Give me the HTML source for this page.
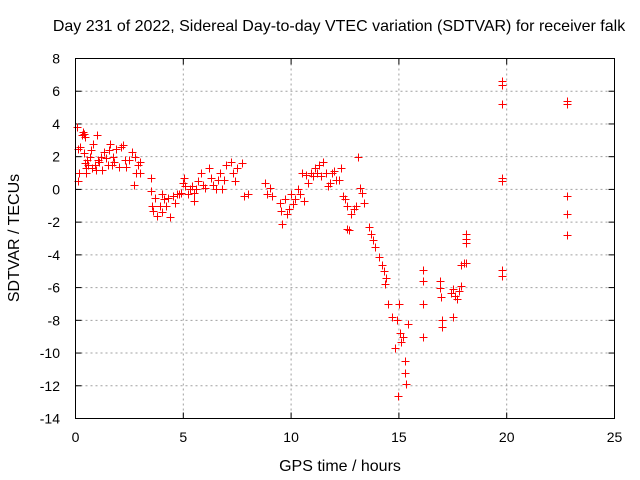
<!DOCTYPE html>
<html><head><meta charset="utf-8"><style>
body{margin:0;background:#fff}
svg{display:block;font-family:"Liberation Sans",sans-serif}
</style></head><body>
<svg id="chart" width="640" height="480" xmlns="http://www.w3.org/2000/svg">
<text x="339" y="31" font-size="16" text-anchor="middle">Day 231 of 2022, Sidereal Day-to-day VTEC variation (SDTVAR) for receiver falk</text>
<text x="340" y="471" font-size="16" text-anchor="middle">GPS time / hours</text>
<text transform="translate(19,238) rotate(-90)" font-size="16" text-anchor="middle">SDTVAR / TECUs</text>
<g id="grid"></g>
<g id="ticks"></g>
<g id="points"></g>
<rect x="75.5" y="58.5" width="539" height="360" fill="none" stroke="#000" stroke-width="1"/>
</svg>
<script>
const xTicks=[0,5,10,15,20,25];
const yTicks=[8,6,4,2,0,-2,-4,-6,-8,-10,-12,-14];
const hours=[0.05,0.1,0.1,0.15,0.2,0.3,0.35,0.4,0.45,0.4,0.45,0.5,0.5,0.55,0.6,0.65,0.7,0.75,0.8,0.9,0.95,1.0,1.05,1.1,1.2,1.25,1.3,1.4,1.5,1.55,1.6,1.7,1.75,1.8,1.9,2.0,2.1,2.2,2.3,2.35,2.5,2.6,2.7,2.75,2.8,2.9,3.0,3.0,
3.5,3.5,3.55,3.6,3.7,3.8,3.9,4.0,4.0,4.1,4.2,4.3,4.4,4.5,4.6,4.7,4.8,4.9,5.0,5.05,5.1,5.2,5.3,5.4,5.5,5.5,5.6,5.7,5.8,5.9,6.0,6.2,6.3,6.4,6.5,6.6,6.7,6.8,6.9,7.0,7.2,7.3,7.4,7.5,7.7,7.8,8.0,8.8,8.9,9.0,9.1,9.5,9.55,9.6,9.7,9.8,9.9,10.0,10.1,10.2,10.3,10.4,10.5,10.6,10.7,10.8,10.9,11.0,11.1,11.2,11.3,11.4,11.5,11.6,11.7,11.8,11.9,12.0,12.1,12.2,12.3,12.4,12.5,12.6,12.6,12.7,12.8,12.9,13.0,13.1,13.2,13.3,13.4,13.6,13.7,13.8,13.9,14.1,14.2,14.3,14.35,14.4,14.5,14.7,14.8,14.9,15.0,15.05,15.1,14.95,15.2,15.3,15.3,15.35,15.4,16.1,16.1,16.1,16.1,16.9,16.9,16.95,17.0,17.0,17.4,17.5,17.5,17.6,17.7,17.8,17.9,17.9,18.0,18.1,18.1,18.1,18.1,19.8,19.8,19.8,19.8,19.8,19.8,19.8,22.8,22.8,22.8,22.8,22.8];
const sdtvar=[3.8,2.5,0.5,1.0,2.6,3.3,3.5,3.4,3.2,2.2,1.6,1.3,1.0,1.8,1.5,2.0,2.4,1.3,2.8,1.5,1.2,3.3,1.8,1.7,2.0,1.2,2.3,1.9,1.5,2.4,2.8,1.5,2.0,1.7,2.5,1.4,2.6,2.7,1.8,1.4,1.8,2.3,0.3,2.0,1.0,1.5,1.0,1.7,
0.7,-0.1,-1.0,-1.3,-0.5,-1.6,-1.0,-0.3,-1.4,-0.6,-1.0,-0.5,-1.7,-0.4,-0.8,-0.3,-0.3,-0.2,0.4,0.7,0.2,-0.3,0.0,0.2,-0.7,-0.2,0.0,0.5,1.0,0.3,0.1,1.3,0.7,0.3,0.0,0.6,1.0,0.0,0.6,1.5,1.7,1.0,0.5,1.3,1.6,-0.4,-0.3,0.4,-0.3,0.1,-0.4,-0.8,-1.3,-2.1,-0.6,-1.5,-1.2,-0.3,-0.9,-0.6,0.0,-0.3,1.0,-0.7,0.9,0.4,1.0,0.8,1.3,1.0,1.5,0.8,1.7,1.0,0.2,0.4,1.0,1.1,0.6,0.6,1.3,-0.4,-0.6,-1.0,-2.4,-2.5,-1.5,-1.2,-1.0,2.0,0.1,-0.2,-0.8,-2.3,-2.7,-3.1,-3.5,-4.1,-4.6,-5.0,-5.8,-5.4,-7.0,-7.8,-9.7,-8.0,-7.0,-8.8,-9.3,-12.6,-9.0,-10.5,-11.2,-11.9,-8.2,-5.6,-4.9,-7.0,-9.0,-5.6,-6.0,-6.6,-8.0,-8.4,-6.3,-6.1,-7.8,-6.5,-6.7,-6.2,-5.9,-4.6,-4.5,-4.5,-2.7,-3.0,-3.3,6.6,6.4,5.2,0.7,0.5,-4.9,-5.3,5.4,5.2,-0.4,-1.5,-2.8];
const NS="http://www.w3.org/2000/svg";
const X0=75.5,X1=614.5,Y0=58.5,Y1=418.5;
const sx=h=>X0+(h-0)/(25-0)*(X1-X0);
const sy=v=>Y0+(8-v)/(8-(-14))*(Y1-Y0);
const grid=document.getElementById('grid'),ticks=document.getElementById('ticks'),pts=document.getElementById('points');
function mk(tag,attrs,parent){const e=document.createElementNS(NS,tag);for(const k in attrs)e.setAttribute(k,attrs[k]);parent.appendChild(e);return e;}
xTicks.forEach(t=>{
  const x=sx(t);
  if(t>0&&t<25){const g=mk('line',{x1:x,x2:x,y1:Y0,y2:Y1,stroke:'#a0a0a0','stroke-dasharray':'2,3'},grid);
  
  }
  mk('line',{x1:x,x2:x,y1:Y1,y2:Y1-6,stroke:'#000'},ticks);
  mk('line',{x1:x,x2:x,y1:Y0,y2:Y0+6,stroke:'#000'},ticks);
  const l=mk('text',{x:x,y:442,'font-size':'14','text-anchor':'middle'},ticks);l.textContent=t;
  
  
});
yTicks.forEach(t=>{
  const y=sy(t);
  if(t<8&&t>-14){const g=mk('line',{x1:X0,x2:X1,y1:y,y2:y,stroke:'#a0a0a0','stroke-dasharray':'2,3'},grid);
  
  }
  mk('line',{x1:X0,x2:X0+6,y1:y,y2:y,stroke:'#000'},ticks);
  mk('line',{x1:X1,x2:X1-6,y1:y,y2:y,stroke:'#000'},ticks);
  const l=mk('text',{x:60,y:y+5,'font-size':'14','text-anchor':'end'},ticks);l.textContent=t;
  
  
});
hours.forEach((h,i)=>{
  const x=Math.round(sx(h))+0.5,y=Math.round(sy(sdtvar[i]))+0.5;
  const p=mk('path',{d:`M${x-4},${y}H${x+4}M${x},${y-4}V${y+4}`,stroke:'#ff0000','stroke-width':'1',fill:'none'},pts);
  
  
});
</script>
</body></html>
